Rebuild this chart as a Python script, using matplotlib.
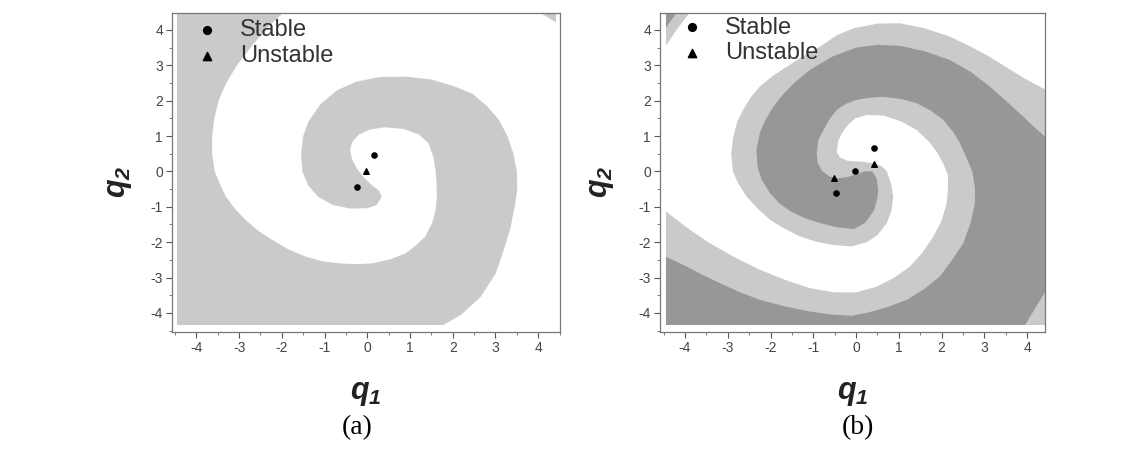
import matplotlib
matplotlib.use('Agg')
import matplotlib.pyplot as plt
from matplotlib.patches import Rectangle
from matplotlib.ticker import MultipleLocator

plt.rcParams['font.family'] = ['Liberation Sans', 'DejaVu Sans']
plt.rcParams['axes.unicode_minus'] = False
plt.rcParams['mathtext.fontset'] = 'custom'
plt.rcParams['mathtext.it'] = 'Liberation Sans:italic:bold'
plt.rcParams['mathtext.rm'] = 'Liberation Sans:italic:bold'

# region of the (q1, q2) plane that was computed
domain_x = (-4.45, 4.42)
domain_y = (-4.35, 4.45)

# ---- panel (a): one gray basin, spiral band (boundaries)
# outer edge of the gray band, from the tip of the central hook outward
a_outer_x = [0.34, 0.22, 0.0, -0.4, -0.8, -1.15, -1.38, -1.52, -1.55, -1.5, -1.38, -1.1, -0.7,
             -0.25, 0.3, 0.9, 1.5, 2.0, 2.46, 2.8, 3.08, 3.28, 3.42, 3.5, 3.51, 3.45, 3.35, 3.2,
             3.0, 2.65, 2.2, 1.7, 1.2, 1.0, -5.2, -5.2, -1.6]
a_outer_y = [-0.72, -0.95, -1.04, -1.05, -0.95, -0.72, -0.4, 0.0, 0.5, 1.0, 1.4, 1.9, 2.3,
             2.54, 2.67, 2.68, 2.6, 2.42, 2.2, 1.85, 1.46, 1.0, 0.5, 0.0, -0.5, -1.0, -1.6, -2.2,
             -2.9, -3.55, -4.05, -4.4, -4.75, -5.2, -5.2, 5.2, 5.2]
# inner edge of the gray band, from the top-left exit back to the hook
a_inner_x = [-1.75, -2.0, -2.35, -2.7, -3.05, -3.3, -3.48, -3.58, -3.63, -3.63, -3.57, -3.45,
             -3.31, -3.1, -2.85, -2.55, -2.22, -1.85, -1.44, -1.05, -0.66, -0.25, 0.12, 0.55,
             0.9, 1.15, 1.36, 1.52, 1.6, 1.63, 1.62, 1.6, 1.55, 1.43, 1.2, 0.85, 0.4, 0.05,
             -0.2, -0.36, -0.4, -0.36, -0.25, -0.1, 0.1, 0.28]
a_inner_y = [4.75, 4.45, 4.05, 3.55, 3.0, 2.5, 2.0, 1.5, 1.0, 0.5, 0.0, -0.35,
             -0.71, -1.05, -1.37, -1.68, -1.94, -2.2, -2.41, -2.54, -2.6, -2.62, -2.6, -2.48,
             -2.31, -2.08, -1.84, -1.45, -1.09, -0.7, -0.33, 0.0, 0.4, 0.8, 1.05, 1.2, 1.25, 1.18,
             1.04, 0.82, 0.6, 0.35, 0.1, -0.15, -0.38, -0.55]
a_corner_x = [3.9, 4.8, 4.8]
a_corner_y = [4.6, 4.6, 3.95]

a_stable_x = [0.16, -0.23]
a_stable_y = [0.47, -0.45]
a_unstable_x = [-0.03]
a_unstable_y = [0.01]

# ---- panel (b): three basins (white, light gray, dark gray)
# dark arm: inner edge (from outside bottom-left toward the centre) and outer edge
b_dark_in_x = [-4.9, -4.5, -3.96, -3.6, -3.18, -2.75, -2.25, -1.65, -1.08, -0.55, -0.1, 0.25,
               0.7, 1.19, 1.6, 1.96, 2.25, 2.51, 2.68, 2.78, 2.78, 2.72, 2.58, 2.43, 2.27, 2.04,
               1.75, 1.42, 1.05, 0.64, 0.3, 0.0, -0.22, -0.45, -0.62, -0.76, -0.88, -0.92, -0.9,
               -0.8, -0.62, -0.45, -0.2, 0.05, 0.2, 0.38, 0.48]
b_dark_in_y = [-2.15, -2.38, -2.69, -2.92, -3.16, -3.4, -3.63, -3.82, -3.96, -4.05, -4.08, -4.0,
               -3.85, -3.63, -3.32, -2.97, -2.5, -2.03, -1.45, -0.9, -0.45, 0.0, 0.4, 0.8, 1.12, 1.46,
               1.72, 1.93, 2.05, 2.11, 2.08, 2.02, 1.92, 1.74, 1.48, 1.17, 0.9, 0.51, 0.25,
               0.02, -0.14, -0.2, -0.16, -0.06, 0.0, 0.0, -0.2]
b_dark_out_x = [0.52, 0.5, 0.42, 0.22, -0.05, -0.45, -0.84, -1.2, -1.5, -1.8, -2.02, -2.2, -2.3,
                -2.33, -2.25, -2.12, -1.95, -1.75, -1.45, -1.08, -0.55, 0.0, 0.5, 1.03, 1.6, 2.2,
                2.7, 3.13, 3.55, 3.91, 4.2, 4.45, 4.8, 4.95, 4.45, 4.2, 3.95, 3.8, -4.9]
b_dark_out_y = [-0.5, -0.75, -1.1, -1.45, -1.63, -1.58, -1.46, -1.32, -1.15, -0.9, -0.6, -0.25, 0.1,
                0.6, 1.1, 1.45, 1.8, 2.12, 2.5, 2.87, 3.25, 3.5, 3.58, 3.55, 3.4, 3.15,
                2.8, 2.4, 1.95, 1.55, 1.22, 0.95, 0.45, -3.0, -3.35, -3.85, -4.35, -4.9, -4.9]
# white arm: edge facing the centre (from the saddle outward) and edge facing outward
b_white_in_x = [0.42, 0.6, 0.72, 0.82, 0.87, 0.83, 0.72, 0.5, 0.25, -0.1, -0.53, -0.95, -1.31,
                -1.7, -2.01, -2.3, -2.56, -2.75, -2.88, -2.92, -2.87, -2.78, -2.64, -2.47, -2.25,
                -1.95, -1.62, -1.25, -0.84, -0.45, -0.05, 0.5, 1.03, 1.6, 2.2, 2.7, 3.13, 3.55,
                3.91, 4.45, 4.9, 4.9, -4.9, -4.9]
b_white_in_y = [0.23, 0.15, 0.0, -0.35, -0.71, -1.1, -1.46, -1.8, -2.0, -2.12, -2.08, -1.98, -1.84,
                -1.6, -1.37, -1.05, -0.71, -0.35, 0.0, 0.5, 0.98, 1.4, 1.74, 2.08, 2.4,
                2.7, 2.96, 3.25, 3.53, 3.85, 4.05, 4.18, 4.19, 4.05, 3.81, 3.52, 3.24, 2.92,
                2.65, 2.3, 1.95, 4.9, 4.9, -0.75]
b_white_out_x = [-4.5, -4.19, -3.85, -3.42, -2.85, -2.25, -1.65, -1.08, -0.5, 0.0, 0.48, 0.9,
                 1.26, 1.55, 1.81, 2.0, 2.12, 2.15, 2.15, 2.05, 1.89, 1.7, 1.42, 1.05, 0.64, 0.25,
                 -0.02, -0.18, -0.33, -0.42, -0.45, -0.38, -0.2, 0.1]
b_white_out_y = [-1.08, -1.37, -1.68, -2.03, -2.42, -2.78, -3.07, -3.3, -3.42, -3.42, -3.26, -3.0,
                 -2.69, -2.3, -1.84, -1.4, -0.9, -0.5, -0.1, 0.2, 0.55, 0.85, 1.17, 1.42, 1.58, 1.6,
                 1.5, 1.33, 1.08, 0.85, 0.55, 0.4, 0.3, 0.28]
# top-left corner wedges
b_light_corner_x = [-3.8, -3.95, -4.2, -4.45, -4.6, -4.9, -4.9, -3.8]
b_light_corner_y = [4.6, 4.4, 4.0, 3.55, 3.3, 3.3, 4.9, 4.9]
b_dark_corner_x = [-4.15, -4.25, -4.45, -4.6, -4.9, -4.9, -4.15]
b_dark_corner_y = [4.6, 4.4, 4.05, 3.8, 3.8, 4.9, 4.9]

b_stable_x = [0.42, -0.02, -0.48]
b_stable_y = [0.66, 0.02, -0.62]
b_unstable_x = [0.43, -0.52]
b_unstable_y = [0.22, -0.19]

light = '#cacaca'
dark = '#979797'


def clipped_fill(ax, xs, ys, color):
    clip = Rectangle((domain_x[0], domain_y[0]), domain_x[1] - domain_x[0],
                     domain_y[1] - domain_y[0], transform=ax.transData)
    for p in ax.fill(xs, ys, color=color, lw=0, zorder=1):
        p.set_clip_path(clip)


def style_axes(ax, xlim, ylab_x):
    ax.set_xlim(*xlim)
    ax.set_ylim(-4.54, 4.48)
    ax.set_xticks(range(-4, 5))
    ax.set_yticks(range(-4, 5))
    ax.xaxis.set_minor_locator(MultipleLocator(0.5))
    ax.yaxis.set_minor_locator(MultipleLocator(0.5))
    ax.tick_params(which='major', direction='out', length=4.5, width=0.8, color='#555555',
                   labelsize=10, labelcolor='#444444', pad=2)
    ax.tick_params(which='minor', direction='out', length=2.2, width=0.6, color='#666666')
    for s in ax.spines.values():
        s.set_color('#777777')
        s.set_linewidth(0.9)
    ax.set_xlabel(r'$q_1$', fontsize=22, va='center', color='#222222')
    ax.xaxis.set_label_coords(0.5, -0.191)
    ax.set_ylabel(r'$q_2$', fontsize=22, va='center', color='#222222')
    ax.yaxis.set_label_coords(ylab_x, 0.47)


def add_points(ax, sx, sy, ux, uy, anchor):
    h1 = ax.scatter(sx, sy, s=14, marker='o', color='black', zorder=3, label='Stable')
    h2 = ax.scatter(ux, uy, s=16, marker='^', color='black', zorder=3, label='Unstable')
    ax.legend(handles=[h1, h2], loc='upper left', bbox_to_anchor=anchor, frameon=False,
              fontsize=17, handlelength=1.0, handletextpad=0.9, labelspacing=0.15,
              borderpad=0, borderaxespad=0, markerscale=1.5, labelcolor='#333333')


fig = plt.figure(figsize=(11.4, 4.49), dpi=100)
ax1 = fig.add_axes([172 / 1140, 1 - 332 / 449, 388 / 1140, 319 / 449])
ax2 = fig.add_axes([660 / 1140, 1 - 332 / 449, 385 / 1140, 319 / 449])

# panel (a)
clipped_fill(ax1, a_outer_x + a_inner_x, a_outer_y + a_inner_y, light)
clipped_fill(ax1, a_corner_x, a_corner_y, light)
add_points(ax1, a_stable_x, a_stable_y, a_unstable_x, a_unstable_y, (0.059, 0.98))
style_axes(ax1, (-4.57, 4.51), -0.137)

# panel (b)
ax2.add_patch(Rectangle((domain_x[0], domain_y[0]), domain_x[1] - domain_x[0],
                        domain_y[1] - domain_y[0], color=light, lw=0, zorder=0.5))
clipped_fill(ax2, b_dark_in_x + b_dark_out_x, b_dark_in_y + b_dark_out_y, dark)
clipped_fill(ax2, b_white_in_x + b_white_out_x, b_white_in_y + b_white_out_y, 'white')
clipped_fill(ax2, b_light_corner_x, b_light_corner_y, light)
clipped_fill(ax2, b_dark_corner_x, b_dark_corner_y, dark)
add_points(ax2, b_stable_x, b_stable_y, b_unstable_x, b_unstable_y, (0.052, 0.989))
style_axes(ax2, (-4.585, 4.42), -0.153)

fig.text(0.313, 0.047, '(a)', ha='center', va='center', fontsize=20,
         family=['Liberation Serif', 'DejaVu Serif'])
fig.text(0.753, 0.047, '(b)', ha='center', va='center', fontsize=20,
         family=['Liberation Serif', 'DejaVu Serif'])

fig.savefig('out.png', dpi=100)
